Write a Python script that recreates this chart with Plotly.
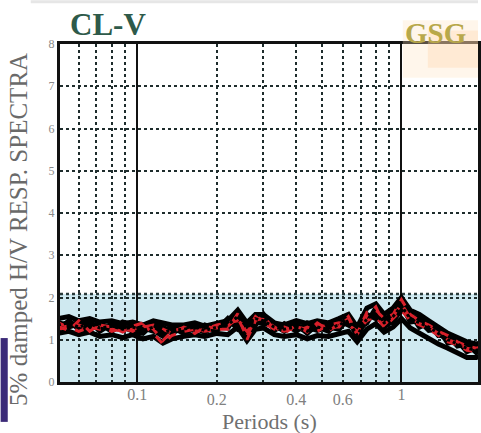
import plotly.graph_objects as go

periods = [0.05,0.055,0.06,0.066,0.072,0.08,0.088,0.096,0.105,0.115,0.125,0.135,0.15,0.165,0.18,0.2,0.22,0.24,0.26,0.28,0.3,0.33,0.36,0.4,0.44,0.48,0.53,0.58,0.63,0.68,0.74,0.8,0.86,0.93,1.0,1.08,1.17,1.27,1.38,1.5,1.63,1.77,1.92,2.0]

black_a = [1.35,1.4,1.3,1.38,1.28,1.32,1.25,1.3,1.22,1.3,1.18,1.22,1.25,1.3,1.22,1.3,1.35,1.55,1.3,1.5,1.45,1.3,1.25,1.3,1.2,1.3,1.25,1.35,1.45,1.1,1.5,1.6,1.4,1.55,1.8,1.5,1.4,1.3,1.15,1.0,0.9,0.8,0.75,0.78]
black_b = [1.5,1.55,1.45,1.5,1.42,1.45,1.38,1.42,1.35,1.45,1.4,1.35,1.35,1.4,1.32,1.4,1.45,1.7,1.4,1.6,1.6,1.4,1.35,1.45,1.38,1.45,1.4,1.5,1.6,1.3,1.75,1.85,1.6,1.75,2.0,1.7,1.6,1.45,1.3,1.15,1.05,0.95,0.9,0.92]
black_c = [1.15,1.2,1.12,1.18,1.08,1.12,1.05,1.12,1.02,1.08,0.92,1.02,1.08,1.12,1.08,1.15,1.12,1.3,0.98,1.25,1.28,1.12,1.08,1.12,1.02,1.1,1.08,1.15,1.2,0.95,1.25,1.38,1.18,1.3,1.5,1.28,1.15,1.05,0.9,0.8,0.68,0.58,0.58,0.62]
black_d = [1.3,1.35,1.4,1.3,1.35,1.25,1.3,1.22,1.28,1.2,1.25,1.28,1.2,1.35,1.28,1.22,1.45,1.4,1.25,1.4,1.5,1.35,1.3,1.25,1.3,1.22,1.3,1.25,1.5,1.2,1.6,1.5,1.45,1.65,1.9,1.55,1.5,1.35,1.2,1.05,0.95,0.85,0.8,0.8]
black_e = [1.42,1.3,1.38,1.45,1.2,1.38,1.32,1.2,1.15,1.38,1.3,1.15,1.3,1.22,1.35,1.25,1.5,1.25,1.35,1.35,1.6,1.22,1.38,1.2,1.4,1.3,1.2,1.45,1.35,1.25,1.4,1.75,1.3,1.45,1.7,1.62,1.3,1.4,1.1,1.1,0.85,0.9,0.7,0.85]
black_f = [1.22,1.45,1.25,1.25,1.38,1.2,1.42,1.35,1.3,1.22,1.08,1.3,1.15,1.28,1.18,1.35,1.28,1.62,1.15,1.42,1.38,1.35,1.2,1.38,1.15,1.38,1.32,1.3,1.55,1.05,1.55,1.55,1.52,1.4,1.85,1.42,1.45,1.22,1.25,0.92,0.98,0.72,0.82,0.72]
red_a = [1.4,1.3,1.35,1.25,1.3,1.2,1.28,1.2,1.35,1.15,0.9,1.1,1.2,1.25,1.2,1.25,1.25,1.62,1.0,1.45,1.55,1.25,1.2,1.3,1.25,1.35,1.3,1.3,1.55,1.15,1.65,1.7,1.5,1.6,1.95,1.6,1.45,1.35,1.2,1.1,0.95,0.85,0.8,0.82]
red_b = [1.25,1.3,1.2,1.3,1.25,1.25,1.2,1.25,1.3,1.35,1.25,1.15,1.3,1.2,1.25,1.35,1.4,1.45,1.2,1.55,1.4,1.25,1.3,1.2,1.3,1.2,1.35,1.4,1.35,1.2,1.45,1.55,1.3,1.5,1.7,1.45,1.35,1.25,1.1,0.95,0.88,0.75,0.72,0.75]
red_c = [1.32,1.22,1.45,1.2,1.35,1.3,1.18,1.32,1.4,1.25,0.98,1.2,1.28,1.15,1.3,1.28,1.32,1.52,1.08,1.5,1.48,1.3,1.15,1.35,1.18,1.4,1.22,1.35,1.5,1.12,1.58,1.78,1.35,1.55,1.85,1.52,1.38,1.3,1.15,1.0,0.92,0.8,0.76,0.8]

black_curves = [black_a, black_b, black_c, black_d, black_e, black_f]
red_curves = [red_a, red_b, red_c]

x_grid_vals = [0.06,0.07,0.08,0.09,0.2,0.3,0.4,0.5,0.6,0.7,0.8,0.9,2.0]
x_grid_text = ["","","","","0.2","","0.4","","0.6","","","",""]
x_major_vals = [0.1, 1]
x_major_text = ["0.1", "1"]
y_tick_vals = [0,1,2,3,4,5,6,7,8]

serif = "Liberation Serif"
fig = go.Figure()

for ys in black_curves:
    fig.add_trace(go.Scatter(x=periods, y=ys, mode="lines",
                             line=dict(color="black", width=5), showlegend=False))
for ys in red_curves:
    fig.add_trace(go.Scatter(x=periods, y=ys, mode="lines",
                             line=dict(color="#d8202a", width=3, dash="dash"), showlegend=False))
fig.add_trace(go.Scatter(x=periods, y=black_a, mode="lines",
                         line=dict(color="black", width=3, dash="dot"), showlegend=False))
fig.add_trace(go.Scatter(x=[0.1, 1], y=[None, None], xaxis="x2",
                         showlegend=False, hoverinfo="skip"))

tickfont_x = dict(family=serif, size=16, color="#808080")
fig.update_layout(
    width=481, height=433,
    margin=dict(l=60, r=0, t=44, b=51),
    paper_bgcolor="white", plot_bgcolor="white",
    xaxis=dict(type="log", range=[-1.293, 0.290],
               tickvals=x_grid_vals, ticktext=x_grid_text,
               showgrid=True, gridcolor="#1e2c2c", griddash="3px,3px", gridwidth=2,
               showline=True, linecolor="#111", linewidth=3, mirror=True,
               ticks="", tickfont=tickfont_x, ticklabelstandoff=1,
               zeroline=False),
    xaxis2=dict(type="log", range=[-1.293, 0.290], overlaying="x",
                tickvals=x_major_vals, ticktext=x_major_text,
                showgrid=True, gridcolor="#111", gridwidth=2,
                tickfont=tickfont_x, ticklabelstandoff=1,
                side="bottom", anchor="y", ticks=""),
    yaxis=dict(range=[0, 8], tickvals=y_tick_vals,
               showgrid=True, gridcolor="#1e2c2c", griddash="3px,3px", gridwidth=2,
               showline=True, linecolor="#111", linewidth=3, mirror=True,
               ticks="", tickfont=dict(family=serif, size=12, color="#8a8a8a"),
               zeroline=False),
    shapes=[
        dict(type="rect", xref="paper", yref="y", x0=0, x1=1, y0=0, y1=2.08,
             fillcolor="#cfe9f0", line=dict(width=0), layer="below"),
        dict(type="line", xref="paper", yref="y", x0=0, x1=1, y0=2.08, y1=2.08,
             line=dict(color="#2a3a3a", width=2.5, dash="3px,3px"), layer="below"),
        dict(type="rect", xref="paper", yref="paper", x0=-0.142, x1=-0.125, y0=-0.118, y1=0.13,
             fillcolor="#3b2a78", line=dict(width=0)),
        dict(type="line", xref="paper", yref="paper", x0=-0.07, x1=1, y0=1.125, y1=1.125,
             line=dict(color="#e6e6e6", width=3)),
        dict(type="rect", xref="paper", yref="paper", x0=0.82, x1=1, y0=0.9, y1=1.07,
             fillcolor="rgba(255,225,190,0.3)", line=dict(width=0), layer="above"),
        dict(type="rect", xref="paper", yref="paper", x0=0.88, x1=1, y0=0.93, y1=1.04,
             fillcolor="rgba(255,205,160,0.3)", line=dict(width=0), layer="above"),
    ],
    annotations=[
        dict(text="Periods (s)", xref="paper", yref="paper",
             x=0.5, y=-0.118, showarrow=False, xanchor="center", yanchor="middle",
             font=dict(family=serif, size=22, color="#707070")),
        dict(text="5% damped H/V RESP. SPECTRA", xref="paper", yref="paper",
             x=-0.098, y=0.45, textangle=-90, showarrow=False,
             xanchor="center", yanchor="middle",
             font=dict(family=serif, size=25, color="#6a6a6a")),
        dict(text="<b>CL-V</b>", xref="paper", yref="paper", x=0.02, y=1.0,
             xanchor="left", yanchor="bottom", showarrow=False,
             font=dict(family=serif, size=31, color="#2e5a4a")),
        dict(text="<b>GSG</b>", xref="paper", yref="paper", x=0.82, y=0.98,
             xanchor="left", yanchor="bottom", showarrow=False,
             font=dict(family=serif, size=29, color="#b8a84a")),
    ],
)

fig.write_html("out.html")
